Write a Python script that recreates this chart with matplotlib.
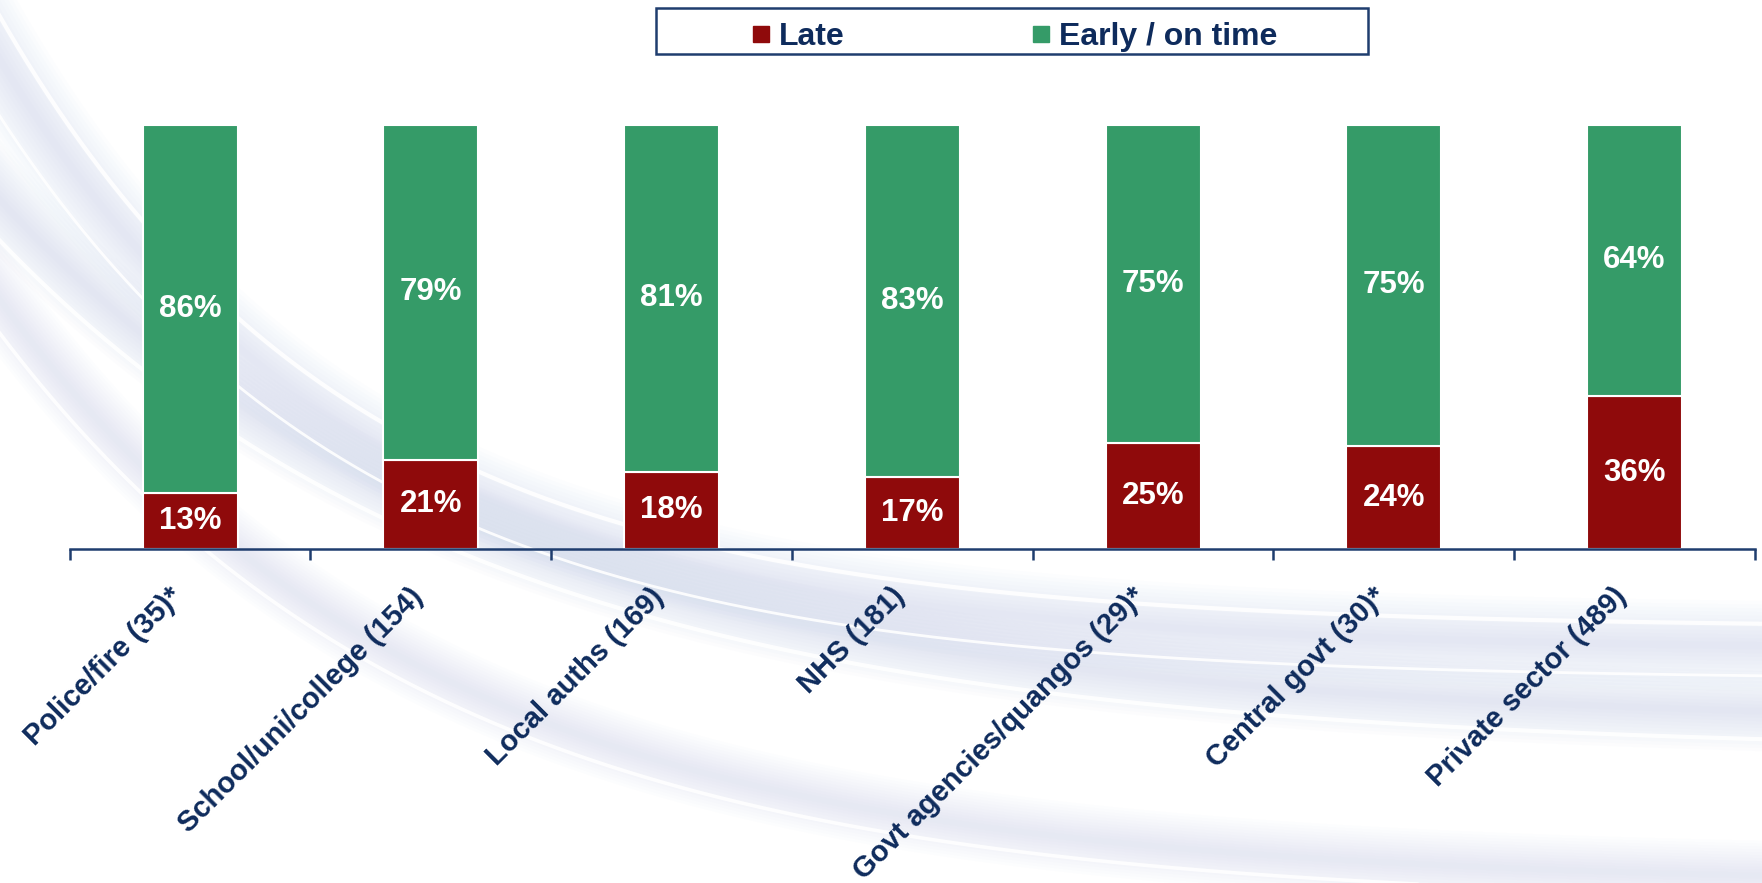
import numpy as np
import matplotlib
matplotlib.use("Agg")
import matplotlib.pyplot as plt
import matplotlib.transforms as mtransforms
from matplotlib.lines import Line2D
from matplotlib.patches import Rectangle

plt.rcParams['font.family'] = ['Liberation Sans', 'DejaVu Sans']

categories = ["Police/fire (35)*", "School/uni/college (154)", "Local auths (169)",
              "NHS (181)", "Govt agencies/quangos (29)*", "Central govt (30)*",
              "Private sector (489)"]
late = [13, 21, 18, 17, 25, 24, 36]
early = [86, 79, 81, 83, 75, 75, 64]
series_names = ["Late", "Early / on time"]

RED = "#8F0A0B"
GREEN = "#359B68"
NAVY = "#0E2B5C"
AXIS = "#1F3D6E"

W, H = 1762, 883
fig = plt.figure(figsize=(W / 100, H / 100), dpi=100)
fig.patch.set_facecolor("white")

# decorative background swooshes (soft bands, pixel space)
bg = fig.add_axes([0, 0, 1, 1], zorder=-5)
bg.set_xlim(0, W)
bg.set_ylim(H, 0)
bg.axis("off")
xs = np.linspace(-500, W + 100, 900)

def curve(y0, yinf, L):
    y = yinf - (yinf - y0) * np.exp(-xs / L)
    dy = (yinf - y0) / L * np.exp(-xs / L)
    return y, dy

def offset(y0, yinf, L, d):
    y, dy = curve(y0, yinf, L)
    nrm = np.sqrt(1 + dy ** 2)
    return xs - dy / nrm * d, y + 1 / nrm * d

def soft_band(y0, yinf, L, width, color, strength):
    n = 12
    for k in range(n):
        h = width / 2 * (1 - k / n)
        xa, ya = offset(y0, yinf, L, -h)
        xb, yb = offset(y0, yinf, L, h)
        bg.fill(np.concatenate([xa, xb[::-1]]), np.concatenate([ya, yb[::-1]]),
                color=color, alpha=strength, lw=0)

bands = [
    (60, 650, 357, 90, "#C5CFE6", 0.038),
    (200, 725, 484, 80, "#C5CFE6", 0.042),
    (300, 885, 426, 70, "#C9D2E8", 0.038),
]
for y0, yinf, L, width, col, st in bands:
    soft_band(y0, yinf, L, width, col, st)
for y0, yinf, L, d, lw in [(60, 650, 357, -22, 3.0), (60, 650, 357, 30, 2.0),
                           (200, 725, 484, 28, 3.0), (300, 885, 426, 20, 2.5)]:
    ox, oy = offset(y0, yinf, L, d)
    bg.plot(ox, oy, color="white", lw=lw, alpha=0.9)

# main axes
left = 69.7 / W
right = 1755 / W
bottom = 1 - 549 / H
top = 1 - 124.7 / H
ax = fig.add_axes([left, bottom, right - left, top - bottom])
ax.set_facecolor("none")

late_a = np.array(late, dtype=float)
early_a = np.array(early, dtype=float)
tot = late_a + early_a
late_f = late_a / tot
early_f = early_a / tot
x = np.arange(len(categories))
bw = 0.395
ax.bar(x, late_f, bw, color=RED, edgecolor="white", linewidth=1.5, label=series_names[0])
ax.bar(x, early_f, bw, bottom=late_f, color=GREEN, edgecolor="white", linewidth=1.5,
       label=series_names[1])

for i in range(len(x)):
    ax.text(x[i], late_f[i] / 2, f"{late[i]}%", ha="center", va="center",
            color="white", fontsize=22.5, fontweight="bold")
    ax.text(x[i], late_f[i] + early_f[i] / 2, f"{early[i]}%", ha="center", va="center",
            color="white", fontsize=22.5, fontweight="bold")

ax.set_xlim(-0.5, len(x) - 0.5)
ax.set_ylim(0, 1)
for s in ["top", "right", "left"]:
    ax.spines[s].set_visible(False)
ax.spines["bottom"].set_color(AXIS)
ax.spines["bottom"].set_linewidth(1.8)
ax.set_yticks([])
ax.set_xticks(np.arange(-0.5, len(x)), labels=[])
ax.tick_params(axis="x", which="major", length=8, width=1.8, color=AXIS, direction="out")
ax.set_xticks(x, labels=categories, minor=True)
ax.tick_params(axis="x", which="minor", length=0, pad=24)
shift = mtransforms.ScaledTranslation(-0.22, 0, fig.dpi_scale_trans)
for lab in ax.get_xticklabels(minor=True):
    lab.set_rotation(45)
    lab.set_ha("right")
    lab.set_va("top")
    lab.set_rotation_mode("anchor")
    lab.set_fontsize(21)
    lab.set_fontweight("bold")
    lab.set_color(NAVY)
    lab.set_transform(lab.get_transform() + shift)

# legend
handles = [Line2D([], [], marker="s", linestyle="none", markersize=11,
                  markerfacecolor=RED, markeredgecolor=RED),
           Line2D([], [], marker="s", linestyle="none", markersize=11,
                  markerfacecolor=GREEN, markeredgecolor=GREEN)]
leg = fig.legend(handles, series_names, loc="center left",
                 bbox_to_anchor=(723 / W, 1 - 37 / H), ncol=2, frameon=False,
                 handlelength=0.6, handletextpad=0.25, columnspacing=5.85,
                 prop={"weight": "bold", "size": 23})
for t in leg.get_texts():
    t.set_color(NAVY)
fig.patches.append(Rectangle((656 / W, 1 - 54 / H), (1368 - 656) / W, 46 / H,
                             transform=fig.transFigure, fill=True, facecolor="white",
                             edgecolor=AXIS, linewidth=1.8, zorder=-1))

fig.savefig("out.png", dpi=100)
